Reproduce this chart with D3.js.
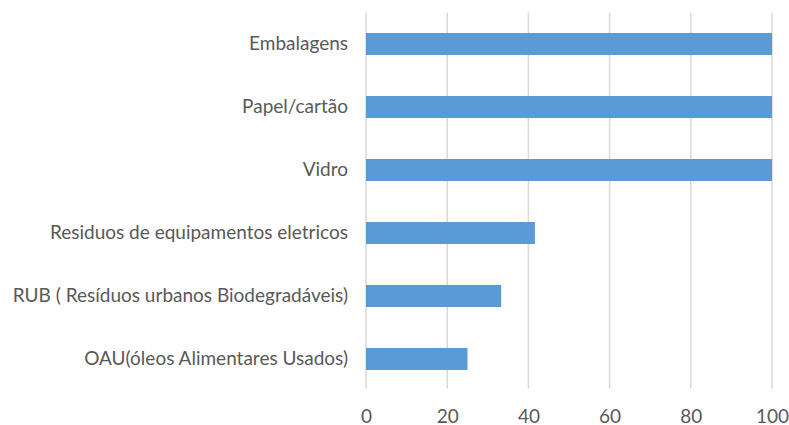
<!DOCTYPE html>
<html><head><meta charset="utf-8">
<script src="https://cdn.jsdelivr.net/npm/d3@7"></script>
<style>body{margin:0;background:#fff}svg{display:block}text{font-family:Lato,"Open Sans",sans-serif;fill:#595959}</style>
</head><body><svg id="c" width="789" height="425"></svg>
<script>
const categories = ["Embalagens","Papel/cartão","Vidro","Residuos de equipamentos eletricos","RUB ( Resíduos urbanos Biodegradáveis)","OAU(óleos Alimentares Usados)"];
const values = [100,100,100,41.6,33.3,25];
const xTicks = [0,20,40,60,80,100];

(function(){
const svg = d3.select("#c");
const mLeft = 366, mRight = 772, mTop = 12.5, mBottom = 390.5;
const x = d3.scaleLinear().domain([0,100]).range([mLeft,mRight]);
const y = d3.scaleBand().domain(categories).range([mTop,mBottom]).paddingInner(0.65).paddingOuter(0.325);

svg.append("g").selectAll("line").data(xTicks).join("line")
  .attr("x1",d=>x(d)).attr("x2",d=>x(d)).attr("y1",mTop).attr("y2",mBottom-2)
  .attr("stroke","#d9d9d9").attr("stroke-width",1.5);

svg.append("g").selectAll("rect").data(values).join("rect")
  .attr("x",x(0)).attr("y",(d,i)=>y(categories[i]))
  .attr("width",d=>x(d)-x(0)).attr("height",y.bandwidth())
  .attr("fill","#5b9bd5");

const yAxis = d3.axisLeft(y).tickSize(0).tickPadding(18);
const ga = svg.append("g").attr("transform",`translate(${mLeft},0)`).call(yAxis);
ga.select(".domain").remove();
ga.selectAll("text").style("font-size","19px").style("font-family","Lato,sans-serif").attr("fill","#595959");

const xAxis = d3.axisBottom(x).tickValues(xTicks).tickSize(0).tickPadding(0);
const gx = svg.append("g").attr("transform",`translate(0,409)`).call(xAxis);
gx.select(".domain").remove();
gx.selectAll("text").style("font-size","19px").style("font-family","Lato,sans-serif").attr("fill","#595959");
})();
</script></body></html>
